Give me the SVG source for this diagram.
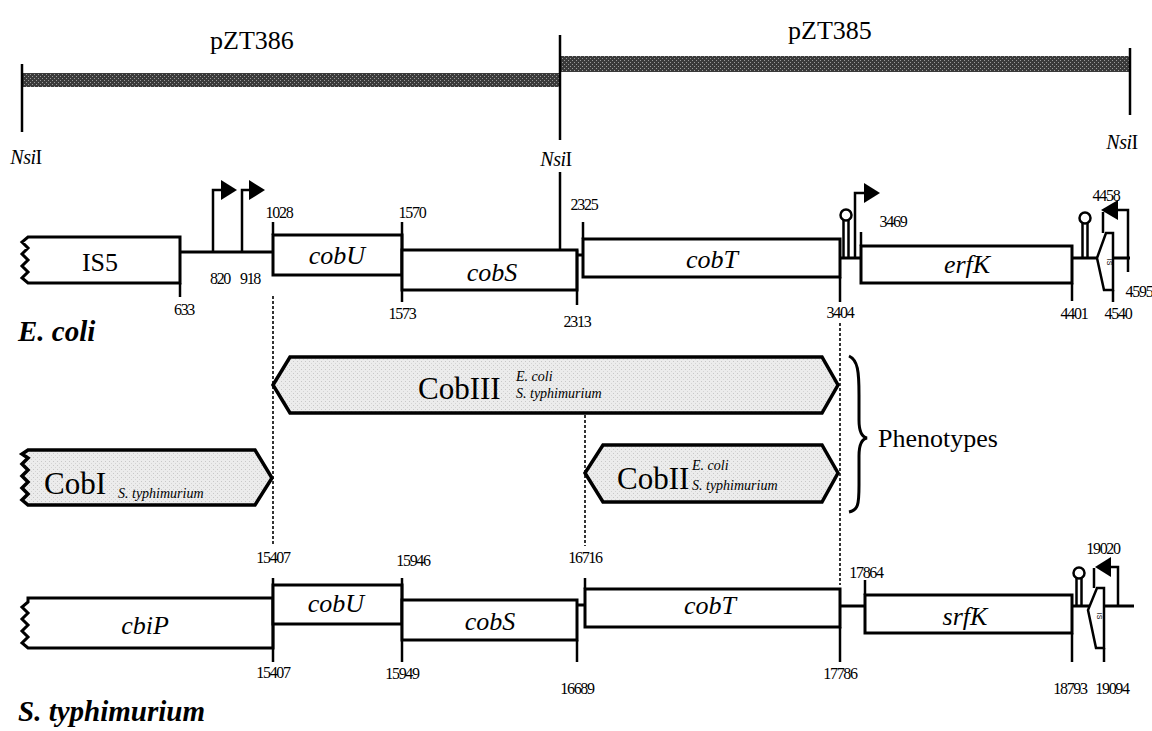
<svg xmlns="http://www.w3.org/2000/svg" width="1152" height="731" viewBox="0 0 1152 731">
<defs>
<pattern id="hatch" width="4" height="4" patternUnits="userSpaceOnUse">
<rect width="4" height="4" fill="#3a3a3a"/>
<rect x="0" y="0" width="1" height="1" fill="#9a9a9a"/>
<rect x="2" y="2" width="1" height="1" fill="#9a9a9a"/>
</pattern>
<pattern id="stip" width="4" height="4" patternUnits="userSpaceOnUse">
<rect width="4" height="4" fill="#ececec"/>
<rect x="1" y="1" width="1" height="1" fill="#c8c8c8"/>
<rect x="3" y="3" width="1" height="1" fill="#d4d4d4"/>
</pattern>
</defs>
<style>
.box{fill:#fff;stroke:#000;stroke-width:3}
.ln{fill:none;stroke:#000;stroke-width:3}
.tk{fill:none;stroke:#000;stroke-width:2.5}
.dash{fill:none;stroke:#000;stroke-width:1.6;stroke-dasharray:3,2}
.ph{fill:url(#stip);stroke:#000;stroke-width:3.5}
.num{font-family:"Liberation Serif",serif;font-size:16px;text-anchor:middle;fill:#000;letter-spacing:-1.3px}
.gene{font-family:"Liberation Serif",serif;font-style:italic;font-size:26px;text-anchor:middle;fill:#000}
.is5{font-family:"Liberation Serif",serif;font-size:26px;text-anchor:middle;fill:#000}
.lab{font-family:"Liberation Serif",serif;font-size:26px;fill:#000}
.nsi{font-family:"Liberation Serif",serif;font-size:20px;fill:#000;text-anchor:middle;letter-spacing:-0.5px}
.big{font-family:"Liberation Serif",serif;font-size:31px;fill:#000}
.sm{font-family:"Liberation Serif",serif;font-style:italic;font-size:14px;fill:#000}
.org{font-family:"Liberation Serif",serif;font-style:italic;font-weight:bold;font-size:29px;fill:#000}
.pr{fill:none;stroke:#000;stroke-width:2.5}
.it{font-style:italic}
</style>

<!-- top plasmid bars -->
<g id="pZT386">
<rect x="22" y="73" width="538" height="14" fill="url(#hatch)"/>
<line class="tk" x1="22" y1="64" x2="22" y2="132"/>
<text class="lab" x="252" y="49" text-anchor="middle">pZT386</text>
<text class="nsi" x="26" y="164"><tspan class="it">Nsi</tspan>I</text>
</g>
<g id="pZT385">
<rect x="560" y="56" width="570" height="16" fill="url(#hatch)"/>
<line class="tk" x1="1130" y1="48" x2="1130" y2="115"/>
<line class="tk" x1="560" y1="35" x2="560" y2="140"/>
<line class="tk" x1="560" y1="172" x2="560" y2="250"/>
<text class="lab" x="830" y="39" text-anchor="middle">pZT385</text>
<text class="nsi" x="556" y="166"><tspan class="it">Nsi</tspan>I</text>
<text class="nsi" x="1122" y="149"><tspan class="it">Nsi</tspan>I</text>
</g>

<!-- connectors (dashed alignment lines) -->
<g id="connectors">
<line class="dash" x1="273" y1="296" x2="273" y2="545"/>
<line class="dash" x1="840" y1="323" x2="840" y2="585"/>
<line class="dash" x1="585" y1="410" x2="585" y2="546"/>
</g>

<!-- E. coli row -->
<g id="ecoli">
<path class="box" d="M28,237 L180,237 L180,283 L28,283 L22,278 L28,272 L22,266 L28,260 L22,254 L28,248 L22,242 Z"/>
<text class="is5" x="100" y="271">IS5</text>
<line class="tk" x1="180" y1="283" x2="180" y2="297"/>
<text class="num" x="184" y="315">633</text>
<line class="ln" x1="180" y1="252" x2="273" y2="252"/>
<path class="pr" d="M213,252 V190 H224"/>
<path d="M221,180 L237,190 L221,200 Z"/>
<path class="pr" d="M242,252 V190 H252"/>
<path d="M249,180 L265,190 L249,200 Z"/>
<text class="num" x="220" y="284">820</text>
<text class="num" x="250" y="284">918</text>

<rect class="box" x="273" y="235" width="129" height="40"/>
<line class="tk" x1="273" y1="222" x2="273" y2="235"/>
<text class="num" x="279" y="218">1028</text>
<text class="gene" x="337" y="264">cobU</text>
<line class="tk" x1="402" y1="222" x2="402" y2="302"/>
<text class="num" x="412" y="218">1570</text>
<text class="num" x="402" y="319">1573</text>

<rect class="box" x="402" y="250" width="175" height="40"/>
<text class="gene" x="492" y="281">cobS</text>
<line class="tk" x1="577" y1="250" x2="577" y2="305"/>
<text class="num" x="577" y="327">2313</text>
<line class="ln" x1="577" y1="255" x2="583" y2="255"/>

<rect class="box" x="583" y="239" width="257" height="38"/>
<line class="tk" x1="583" y1="222" x2="583" y2="239"/>
<text class="num" x="584" y="210">2325</text>
<text class="gene" x="712" y="268">cobT</text>
<line class="tk" x1="840" y1="277" x2="840" y2="302"/>
<text class="num" x="840" y="318">3404</text>

<circle cx="846" cy="215" r="5.5" fill="#fff" stroke="#000" stroke-width="2.5"/>
<line class="tk" x1="843.5" y1="220" x2="843.5" y2="258"/>
<line class="tk" x1="848.5" y1="220" x2="848.5" y2="258"/>
<line class="ln" x1="840" y1="258" x2="861" y2="258"/>
<path class="pr" d="M855,258 V193 H867"/>
<path d="M864,183 L880,193 L864,203 Z"/>
<text class="num" x="893" y="227">3469</text>

<rect class="box" x="861" y="246" width="211" height="37"/>
<line class="tk" x1="861" y1="232" x2="861" y2="246"/>
<text class="gene" x="967" y="273">erfK</text>
<line class="tk" x1="1072" y1="283" x2="1072" y2="301"/>
<text class="num" x="1074" y="319">4401</text>

<line class="ln" x1="1072" y1="258" x2="1130" y2="258"/>
<circle cx="1085" cy="218" r="5.5" fill="#fff" stroke="#000" stroke-width="2.5"/>
<line class="tk" x1="1082.5" y1="223" x2="1082.5" y2="258"/>
<line class="tk" x1="1087.5" y1="223" x2="1087.5" y2="258"/>
<path d="M1106,233 L1113,233 L1113,290 L1104,290 L1097,258 Z" fill="#fff" stroke="#000" stroke-width="2.5"/>
<text x="1107" y="262" font-family="Liberation Sans, sans-serif" font-size="7" text-anchor="middle" transform="rotate(90 1107 262)">IS</text>
<line class="tk" x1="1103" y1="212" x2="1103" y2="233"/>
<line class="tk" x1="1113" y1="290" x2="1113" y2="302"/>
<path class="pr" d="M1128,272 V210 H1115"/>
<path d="M1118,200 L1101,210 L1118,220 Z"/>
<text class="num" x="1106" y="201">4458</text>
<text class="num" x="1139" y="297">4595</text>
<text class="num" x="1118" y="319">4540</text>
<text class="org" x="18" y="341">E. coli</text>
</g>

<!-- Phenotypes -->
<g id="cobIII">
<path class="ph" d="M273,385 L290,357 L822,357 L838,385 L822,413 L290,413 Z"/>
<text class="big" x="418" y="399">CobIII</text>
<text class="sm" x="516" y="381">E. coli</text>
<text class="sm" x="516" y="398">S. typhimurium</text>
</g>
<g id="cobI">
<path class="ph" d="M28,450 L255,450 L272,478 L255,505 L28,505 L22,500 L28,494 L22,488 L28,482 L22,476 L28,470 L22,464 L28,458 L22,454 Z"/>
<text class="big" x="44" y="494">CobI</text>
<text class="sm" x="118" y="498" font-size="15">S. typhimurium</text>
</g>
<g id="cobII">
<path class="ph" d="M585,473 L603,445 L822,445 L838,473 L822,502 L603,502 Z"/>
<text class="big" x="617" y="489">CobII</text>
<text class="sm" x="692" y="470">E. coli</text>
<text class="sm" x="692" y="490">S. typhimurium</text>
</g>
<g id="phenotypes">
<path d="M849,356 C858,360 859,372 859,395 L859,420 C859,432 862,437 867,438 C862,439 859,444 859,456 L859,485 C859,505 858,510 849,512" fill="none" stroke="#000" stroke-width="3"/>
<text class="lab" x="878" y="447" font-size="33">Phenotypes</text>
</g>

<!-- S. typhimurium row -->
<g id="styphimurium">
<path class="box" d="M28,598 L273,598 L273,648 L28,648 L22,643 L28,637 L22,631 L28,625 L22,619 L28,613 L22,607 L28,602 Z"/>
<text class="gene" x="145" y="634">cbiP</text>
<line class="tk" x1="273" y1="578" x2="273" y2="662"/>
<text class="num" x="273" y="563">15407</text>
<text class="num" x="273" y="678">15407</text>

<rect class="box" x="273" y="585" width="129" height="39"/>
<text class="gene" x="336" y="612">cobU</text>
<line class="tk" x1="402" y1="578" x2="402" y2="662"/>
<text class="num" x="413" y="566">15946</text>
<text class="num" x="402" y="679">15949</text>

<rect class="box" x="402" y="600" width="175" height="40"/>
<text class="gene" x="490" y="630">cobS</text>
<line class="tk" x1="577" y1="640" x2="577" y2="662"/>
<text class="num" x="577" y="694">16689</text>
<line class="ln" x1="577" y1="605" x2="585" y2="605"/>

<rect class="box" x="585" y="589" width="255" height="38"/>
<line class="tk" x1="585" y1="578" x2="585" y2="589"/>
<text class="num" x="585" y="563">16716</text>
<text class="gene" x="710" y="614">cobT</text>
<line class="tk" x1="840" y1="627" x2="840" y2="662"/>
<text class="num" x="840" y="679">17786</text>
<line class="ln" x1="840" y1="606" x2="865" y2="606"/>

<rect class="box" x="865" y="595" width="207" height="38"/>
<line class="tk" x1="865" y1="580" x2="865" y2="595"/>
<text class="num" x="866" y="578">17864</text>
<text class="gene" x="965" y="625">srfK</text>
<line class="tk" x1="1072" y1="633" x2="1072" y2="662"/>
<text class="num" x="1070" y="694">18793</text>

<line class="ln" x1="1072" y1="606" x2="1134" y2="606"/>
<circle cx="1079" cy="573" r="5.5" fill="#fff" stroke="#000" stroke-width="2.5"/>
<line class="tk" x1="1076.5" y1="578" x2="1076.5" y2="606"/>
<line class="tk" x1="1081.5" y1="578" x2="1081.5" y2="606"/>
<path d="M1097,588 L1104,588 L1104,648 L1096,648 L1088,610 Z" fill="#fff" stroke="#000" stroke-width="2.5"/>
<text x="1097" y="616" font-family="Liberation Sans, sans-serif" font-size="7" text-anchor="middle" transform="rotate(90 1097 616)">IS</text>
<line class="tk" x1="1094" y1="568" x2="1094" y2="588"/>
<line class="tk" x1="1104" y1="648" x2="1104" y2="662"/>
<path class="pr" d="M1118,606 V567 H1108"/>
<path d="M1111,557 L1095,567 L1111,577 Z"/>
<text class="num" x="1103" y="554">19020</text>
<text class="num" x="1112" y="694">19094</text>
<text class="org" x="18" y="721">S. typhimurium</text>
</g>
</svg>
